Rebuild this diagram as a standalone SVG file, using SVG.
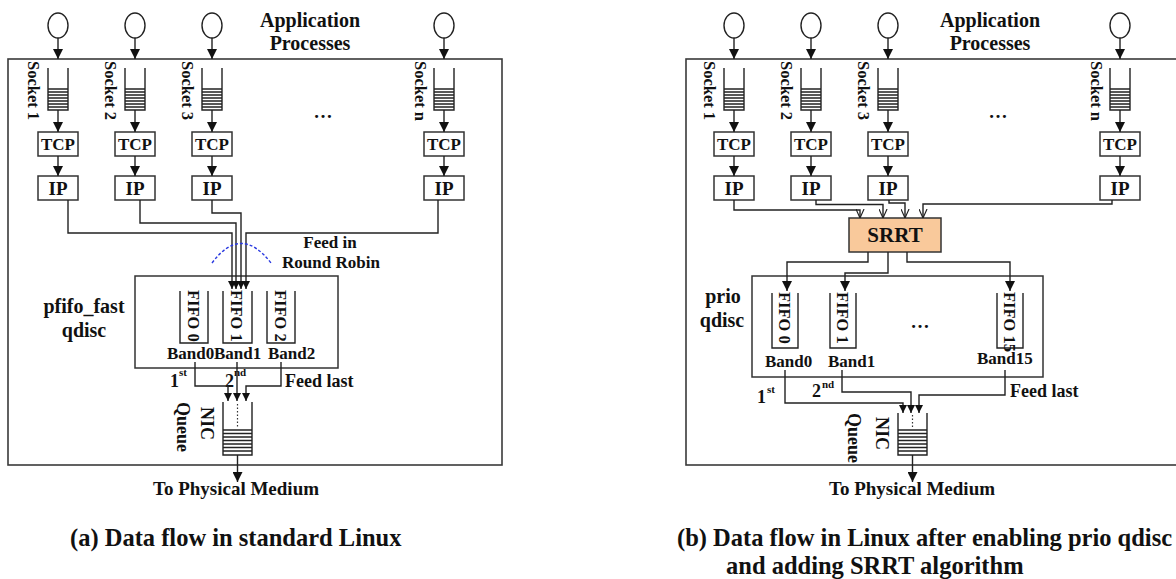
<svg xmlns="http://www.w3.org/2000/svg" width="1176" height="579" viewBox="0 0 1176 579">
<style>
text{font-family:"Liberation Serif","Times New Roman",serif;fill:#111;font-weight:bold}
.c{text-anchor:middle}
.frame{fill:none;stroke:#3a3a3a;stroke-width:1.6}
.bx{fill:#fff;stroke:#333;stroke-width:1.5}
.ln{fill:none;stroke:#222;stroke-width:1.4}
.dot{fill:none;stroke:#333;stroke-width:1.2;stroke-dasharray:1.5 2}
.proc{fill:#fff;stroke:#222;stroke-width:1.4}
.app{font-size:20px}
.tcp{font-size:17px}
.ip{font-size:19px}
.sk{font-size:16.5px}
.fifo{font-size:16.5px}
.band{font-size:17px}
.q{font-size:20px}
.lbl{font-size:18px}
.sup{font-size:11px}
.rr{font-size:17px}
.phy{font-size:19px}
.cap{font-size:24.5px}
.arc{fill:none;stroke:#2b3be0;stroke-width:1.4;stroke-dasharray:3 2}
</style>
<defs>
<marker id="ah" viewBox="0 0 10 10" refX="10" refY="5" markerWidth="10" markerHeight="10" orient="auto" markerUnits="userSpaceOnUse"><path d="M0,0 L10,5 L0,10 z" fill="#111"/></marker>
<marker id="ahs" viewBox="0 0 10 10" refX="10" refY="5" markerWidth="8" markerHeight="8" orient="auto" markerUnits="userSpaceOnUse"><path d="M0,0 L10,5 L0,10 z" fill="#111"/></marker>
<marker id="aho" viewBox="0 0 10 10" refX="10" refY="5" markerWidth="9" markerHeight="9" orient="auto" markerUnits="userSpaceOnUse"><path d="M0,0.5 L10,5 L0,9.5" fill="none" stroke="#222" stroke-width="1.3"/></marker>
<g id="stk"><path class="ln" d="M-10,68 V110 H10 V68 M-10,89 H10 M-10,92 H10 M-10,95 H10 M-10,98 H10 M-10,101 H10 M-10,104 H10 M-10,107 H10"/></g>
</defs>
<rect width="1176" height="579" fill="#fff"/>

<!-- ================= LEFT (a) ================= -->
<g id="a-frame"><rect class="frame" x="8" y="59" width="494" height="406"/></g>
<g id="a-title"><text class="c app" x="310" y="27">Application</text><text class="c app" x="310" y="50">Processes</text></g>

<g id="a-proc1"><ellipse class="proc" cx="58" cy="25.5" rx="10" ry="12.5"/></g>
<g id="a-proc2"><ellipse class="proc" cx="135" cy="25.5" rx="10" ry="12.5"/></g>
<g id="a-proc3"><ellipse class="proc" cx="212" cy="25.5" rx="10" ry="12.5"/></g>
<g id="a-procn"><ellipse class="proc" cx="444" cy="25.5" rx="10" ry="12.5"/></g>

<g id="a-sock1"><use href="#stk" x="58"/><text class="sk" transform="translate(28,61) rotate(90)">Socket 1</text></g>
<g id="a-sock2"><use href="#stk" x="135"/><text class="sk" transform="translate(105,61) rotate(90)">Socket 2</text></g>
<g id="a-sock3"><use href="#stk" x="212"/><text class="sk" transform="translate(182,61) rotate(90)">Socket 3</text></g>
<g id="a-sockn"><use href="#stk" x="444"/><text class="sk" transform="translate(415,61) rotate(90)">Socket n</text></g>
<g id="a-dots"><text class="c" style="font-size:19px" x="323" y="118">…</text></g>

<g id="a-tcp1"><rect class="bx" x="38" y="132" width="40" height="24"/><text class="c tcp" x="58" y="150">TCP</text></g>
<g id="a-tcp2"><rect class="bx" x="115" y="132" width="40" height="24"/><text class="c tcp" x="135" y="150">TCP</text></g>
<g id="a-tcp3"><rect class="bx" x="192" y="132" width="40" height="24"/><text class="c tcp" x="212" y="150">TCP</text></g>
<g id="a-tcpn"><rect class="bx" x="424" y="132" width="40" height="24"/><text class="c tcp" x="444" y="150">TCP</text></g>
<g id="a-ip1"><rect class="bx" x="38" y="176" width="40" height="24"/><text class="c ip" x="58" y="195">IP</text></g>
<g id="a-ip2"><rect class="bx" x="115" y="176" width="40" height="24"/><text class="c ip" x="135" y="195">IP</text></g>
<g id="a-ip3"><rect class="bx" x="192" y="176" width="40" height="24"/><text class="c ip" x="212" y="195">IP</text></g>
<g id="a-ipn"><rect class="bx" x="424" y="176" width="40" height="24"/><text class="c ip" x="444" y="195">IP</text></g>

<g id="a-rr"><text class="c rr" x="330" y="248">Feed in</text><text class="c rr" x="331" y="268">Round Robin</text></g>

<g id="a-pfifo">
<rect class="bx" x="135" y="276" width="203" height="92"/>
<text class="c q" x="84" y="313">pfifo_fast</text><text class="c q" x="84" y="337">qdisc</text>
</g>
<g id="a-fifo0"><path class="ln" d="M180,291 V343 H208 V291"/><text class="fifo" transform="translate(188,290) rotate(90)">FIFO 0</text><text class="band" x="167" y="359">Band0</text></g>
<g id="a-fifo1"><path class="ln" d="M223,291 V343 H252 V291"/><text class="fifo" transform="translate(231,290) rotate(90)">FIFO 1</text><text class="band" x="214" y="359">Band1</text></g>
<g id="a-fifo2"><path class="ln" d="M267,291 V343 H295 V291"/><text class="fifo" transform="translate(275,290) rotate(90)">FIFO 2</text><text class="band" x="268" y="359">Band2</text></g>

<g id="a-order">
<text class="lbl" x="170" y="387">1</text><text class="sup" x="179" y="376">st</text>
<text class="lbl" x="225" y="387">2</text><text class="sup" x="234" y="376">nd</text>
<text class="lbl" x="285" y="387">Feed last</text>
</g>

<g id="a-nic">
<path class="ln" d="M223,402 V455 H252 V402 M223,430 H252 M223,433.5 H252 M223,437 H252 M223,440.5 H252 M223,444 H252 M223,447.5 H252 M223,451 H252"/>
<path class="dot" d="M237.5,404 V428"/>
<text class="lbl" transform="translate(201,407) rotate(90)">NIC</text>
<text class="lbl" transform="translate(177,402) rotate(90)">Queue</text>
</g>
<g id="a-phy"><text class="c phy" x="236" y="495">To Physical Medium</text></g>
<g id="a-caption"><text class="cap" x="70" y="546">(a) Data flow in standard Linux</text></g>

<g id="a-connectors">
<path class="ln" marker-end="url(#ah)" d="M58,38 V59"/>
<path class="ln" marker-end="url(#ah)" d="M135,38 V59"/>
<path class="ln" marker-end="url(#ah)" d="M212,38 V59"/>
<path class="ln" marker-end="url(#ah)" d="M444,38 V59"/>
<path class="ln" marker-end="url(#ah)" d="M58,110 V132"/>
<path class="ln" marker-end="url(#ah)" d="M135,110 V132"/>
<path class="ln" marker-end="url(#ah)" d="M212,110 V132"/>
<path class="ln" marker-end="url(#ah)" d="M444,110 V132"/>
<path class="ln" marker-end="url(#ah)" d="M58,156 V176"/>
<path class="ln" marker-end="url(#ah)" d="M135,156 V176"/>
<path class="ln" marker-end="url(#ah)" d="M212,156 V176"/>
<path class="ln" marker-end="url(#ah)" d="M444,156 V176"/>
<path class="ln" marker-end="url(#ahs)" d="M68,200 V233 H232 V289"/>
<path class="ln" marker-end="url(#ahs)" d="M140,200 V223 H236 V289"/>
<path class="ln" marker-end="url(#ahs)" d="M212,200 V213 H241 V289"/>
<path class="ln" marker-end="url(#ahs)" d="M438,200 V233 H246 V289"/>
<path class="arc" d="M212,263 Q241,224 271,263"/>
<path class="ln" marker-end="url(#ahs)" d="M195,362 V386 H228 V401"/>
<path class="ln" marker-end="url(#ahs)" d="M237,362 V401"/>
<path class="ln" marker-end="url(#ahs)" d="M281,362 V386 H246 V401"/>
<path class="ln" marker-end="url(#ah)" d="M237.5,455 V482"/>
</g>

<!-- ================= RIGHT (b) ================= -->
<g id="b-frame"><rect class="frame" x="686" y="59" width="520" height="406"/></g>
<g id="b-title"><text class="c app" x="990" y="27">Application</text><text class="c app" x="990" y="50">Processes</text></g>

<g id="b-proc1"><ellipse class="proc" cx="734" cy="25.5" rx="10" ry="12.5"/></g>
<g id="b-proc2"><ellipse class="proc" cx="811" cy="25.5" rx="10" ry="12.5"/></g>
<g id="b-proc3"><ellipse class="proc" cx="888" cy="25.5" rx="10" ry="12.5"/></g>
<g id="b-procn"><ellipse class="proc" cx="1120" cy="25.5" rx="10" ry="12.5"/></g>

<g id="b-sock1"><use href="#stk" x="734"/><text class="sk" transform="translate(704,61) rotate(90)">Socket 1</text></g>
<g id="b-sock2"><use href="#stk" x="811"/><text class="sk" transform="translate(781,61) rotate(90)">Socket 2</text></g>
<g id="b-sock3"><use href="#stk" x="888"/><text class="sk" transform="translate(858,61) rotate(90)">Socket 3</text></g>
<g id="b-sockn"><use href="#stk" x="1120"/><text class="sk" transform="translate(1091,61) rotate(90)">Socket n</text></g>
<g id="b-dots"><text class="c" style="font-size:19px" x="998" y="118">…</text></g>

<g id="b-tcp1"><rect class="bx" x="714" y="132" width="40" height="24"/><text class="c tcp" x="734" y="150">TCP</text></g>
<g id="b-tcp2"><rect class="bx" x="791" y="132" width="40" height="24"/><text class="c tcp" x="811" y="150">TCP</text></g>
<g id="b-tcp3"><rect class="bx" x="868" y="132" width="40" height="24"/><text class="c tcp" x="888" y="150">TCP</text></g>
<g id="b-tcpn"><rect class="bx" x="1100" y="132" width="40" height="24"/><text class="c tcp" x="1120" y="150">TCP</text></g>
<g id="b-ip1"><rect class="bx" x="714" y="176" width="40" height="24"/><text class="c ip" x="734" y="195">IP</text></g>
<g id="b-ip2"><rect class="bx" x="791" y="176" width="40" height="24"/><text class="c ip" x="811" y="195">IP</text></g>
<g id="b-ip3"><rect class="bx" x="868" y="176" width="40" height="24"/><text class="c ip" x="888" y="195">IP</text></g>
<g id="b-ipn"><rect class="bx" x="1100" y="176" width="40" height="24"/><text class="c ip" x="1120" y="195">IP</text></g>

<g id="b-srrt"><rect x="849" y="218" width="92" height="34" fill="#f9c99b" stroke="#333" stroke-width="1.5"/><text class="c" style="font-size:21px" x="895" y="242">SRRT</text></g>

<g id="b-prio">
<rect class="bx" x="752" y="276" width="291" height="101"/>
<text class="c q" x="723" y="303">prio</text><text class="c q" x="722" y="327">qdisc</text>
<text class="c" style="font-size:19px" x="920" y="328">…</text>
</g>
<g id="b-fifo0"><path class="ln" d="M772,293 V348 H798 V293"/><text class="fifo" transform="translate(779,292) rotate(90)">FIFO 0</text><text class="band" x="765" y="367">Band0</text></g>
<g id="b-fifo1"><path class="ln" d="M830,293 V348 H856 V293"/><text class="fifo" transform="translate(837,292) rotate(90)">FIFO 1</text><text class="band" x="828" y="367">Band1</text></g>
<g id="b-fifo15"><path class="ln" d="M997,293 V348 H1023 V293"/><text class="fifo" transform="translate(1004,292) rotate(90)">FIFO 15</text><text class="band" x="977" y="364">Band15</text></g>

<g id="b-order">
<text class="lbl" x="757" y="403">1</text><text class="sup" x="767" y="393">st</text>
<text class="lbl" x="812" y="397">2</text><text class="sup" x="822" y="388">nd</text>
<text class="lbl" x="1010" y="397">Feed last</text>
</g>

<g id="b-nic">
<path class="ln" d="M898,413 V455 H927 V413 M898,430 H927 M898,433.5 H927 M898,437 H927 M898,440.5 H927 M898,444 H927 M898,447.5 H927 M898,451 H927"/>
<path class="dot" d="M912.5,415 V428"/>
<text class="lbl" transform="translate(876,417) rotate(90)">NIC</text>
<text class="lbl" transform="translate(848,413) rotate(90)">Queue</text>
</g>
<g id="b-phy"><text class="c phy" x="912" y="495">To Physical Medium</text></g>
<g id="b-caption"><text class="cap" x="677" y="546">(b) Data flow in Linux after enabling prio qdisc</text><text class="cap" x="726" y="574">and adding SRRT algorithm</text></g>

<g id="b-connectors">
<path class="ln" marker-end="url(#ah)" d="M734,38 V59"/>
<path class="ln" marker-end="url(#ah)" d="M811,38 V59"/>
<path class="ln" marker-end="url(#ah)" d="M888,38 V59"/>
<path class="ln" marker-end="url(#ah)" d="M1120,38 V59"/>
<path class="ln" marker-end="url(#ah)" d="M734,110 V132"/>
<path class="ln" marker-end="url(#ah)" d="M811,110 V132"/>
<path class="ln" marker-end="url(#ah)" d="M888,110 V132"/>
<path class="ln" marker-end="url(#ah)" d="M1120,110 V132"/>
<path class="ln" marker-end="url(#ah)" d="M734,156 V176"/>
<path class="ln" marker-end="url(#ah)" d="M811,156 V176"/>
<path class="ln" marker-end="url(#ah)" d="M888,156 V176"/>
<path class="ln" marker-end="url(#ah)" d="M1120,156 V176"/>
<path class="ln" marker-end="url(#aho)" d="M734,200 V210 H860 V218"/>
<path class="ln" marker-end="url(#aho)" d="M816,200 V204.5 H883 V218"/>
<path class="ln" marker-end="url(#aho)" d="M889,200 V203 H905 V218"/>
<path class="ln" marker-end="url(#aho)" d="M1112,200 V204 H923 V218"/>
<path class="ln" marker-end="url(#ah)" d="M868,252 V262 H787 V291"/>
<path class="ln" marker-end="url(#ah)" d="M888,252 V273 H845 V291"/>
<path class="ln" marker-end="url(#ah)" d="M907,252 V262 H1010 V291"/>
<path class="ln" marker-end="url(#ahs)" d="M785,370 V403 H903 V413"/>
<path class="ln" marker-end="url(#ahs)" d="M842,370 V392 H911 V413"/>
<path class="ln" marker-end="url(#ahs)" d="M1005,370 V395 H919 V413"/>
<path class="ln" marker-end="url(#ah)" d="M912.5,455 V482"/>
</g>
</svg>
